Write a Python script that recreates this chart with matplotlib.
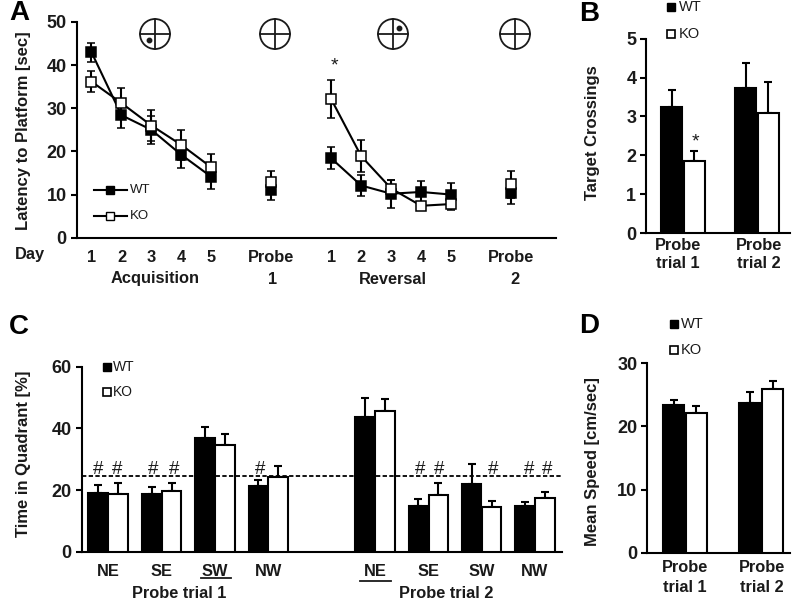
import matplotlib
matplotlib.use("Agg")
import matplotlib.pyplot as plt
import numpy as np
from matplotlib.patches import Circle

plt.rcParams['font.family'] = ['Liberation Sans', 'DejaVu Sans']

W, H = 800, 605

# panel A
acq_pos = [0, 1, 2, 3, 4]
rev_pos = [8, 9, 10, 11, 12]
probe_pos = [6, 14]
a_ticks = [0, 1, 2, 3, 4, 6, 8, 9, 10, 11, 12, 14]
a_labels = ['1', '2', '3', '4', '5', 'Probe', '1', '2', '3', '4', '5', 'Probe']

wt_acq = [43, 28.4, 25, 19.2, 14.1]
wt_acq_err = [2.2, 3, 3.3, 3, 2.7]
ko_acq = [36.2, 31.2, 26, 21.5, 16.3]
ko_acq_err = [2.4, 3.6, 3.6, 3.4, 3]
wt_rev = [18.4, 12.1, 10.2, 10.6, 10]
wt_rev_err = [2.55, 2.4, 3.2, 2.5, 2.6]
ko_rev = [32.1, 18.9, 11.4, 7.4, 7.8]
ko_rev_err = [4.4, 3.7, 2, 0.8, 1.3]
wt_probe = [11, 10.4]
wt_probe_err = [2.2, 2.7]
ko_probe = [13, 12.4]
ko_probe_err = [2.4, 3.1]

# panel B
b_wt = [3.24, 3.74]
b_wt_err = [0.45, 0.64]
b_ko = [1.85, 3.1]
b_ko_err = [0.27, 0.78]

# panel C
c_pos = [0, 1, 2, 3, 5, 6, 7, 8]
c_labels = ['NE', 'SE', 'SW', 'NW', 'NE', 'SE', 'SW', 'NW']
c_wt = [19.2, 18.6, 36.9, 21.4, 43.8, 14.9, 22.1, 14.8]
c_wt_err = [2.5, 2.4, 3.4, 1.7, 6.1, 2.1, 6.2, 1.3]
c_ko = [18.6, 19.7, 34.6, 24.1, 45.6, 18.5, 14.4, 17.5]
c_ko_err = [3.8, 2.5, 3.7, 3.6, 3.9, 3.7, 1.9, 2]
chance = 24.5

# panel D
d_wt = [23.4, 23.7]
d_wt_err = [0.8, 1.7]
d_ko = [22.1, 25.9]
d_ko_err = [1.2, 1.3]

DARK = '#1a1a1a'
LW = 1.5
LABEL = 11.8

fig = plt.figure(figsize=(W / 100, H / 100), dpi=100, facecolor='white')


def px_axes(left, top, right, bottom):
    ax = fig.add_axes([left / W, 1 - bottom / H, (right - left) / W, (bottom - top) / H])
    ax.patch.set_alpha(0)
    ax.spines['top'].set_visible(False)
    ax.spines['right'].set_visible(False)
    ax.spines['left'].set_linewidth(LW)
    ax.spines['bottom'].set_linewidth(LW)
    ax.tick_params(axis='y', length=4, width=LW, pad=3, labelsize=13, labelcolor=DARK)
    ax.tick_params(axis='x', length=0, labelsize=LABEL, labelcolor=DARK)
    return ax


def bars(ax, pos, wt, wt_err, ko, ko_err, width, off):
    pos = np.array(pos)
    for x, v, e, col in [(pos - off, wt, wt_err, 'black'), (pos + off, ko, ko_err, 'white')]:
        ax.errorbar(x, v, yerr=[np.zeros(len(v)), e], fmt='none', ecolor='black',
                    elinewidth=LW, capsize=2.8, capthick=LW, zorder=2)
        ax.bar(x, v, width, color=col, edgecolor='black', linewidth=LW, zorder=3)


def series(ax, x, y, err, face, line=True):
    ax.errorbar(x, y, yerr=err, fmt='s-' if line else 's', color='black', mfc=face, mec='black',
                ms=6.5, mew=1.1, lw=LW, elinewidth=LW, capsize=2.8, capthick=LW, zorder=3, clip_on=False)


# A
ax_a = px_axes(76.5, 22, 556, 237.7)
series(ax_a, acq_pos, wt_acq, wt_acq_err, 'black')
series(ax_a, acq_pos, ko_acq, ko_acq_err, 'white')
series(ax_a, rev_pos, wt_rev, wt_rev_err, 'black')
series(ax_a, rev_pos, ko_rev, ko_rev_err, 'white')
series(ax_a, probe_pos, wt_probe, wt_probe_err, 'black', line=False)
series(ax_a, probe_pos, ko_probe, ko_probe_err, 'white', line=False)
ax_a.set_xlim(-0.5, 15.5)
ax_a.set_ylim(0, 50)
ax_a.set_yticks([0, 10, 20, 30, 40, 50])
ax_a.set_xticks(a_ticks, a_labels)
ax_a.tick_params(axis='x', pad=9)

# B
ax_b = px_axes(646, 38.7, 790, 233)
bars(ax_b, [0, 1], b_wt, b_wt_err, b_ko, b_ko_err, 0.285, 0.155)
ax_b.set_xlim(-0.5, 1.446)
ax_b.set_ylim(0, 5)
ax_b.set_yticks([0, 1, 2, 3, 4, 5])
ax_b.set_xticks([])

# C
ax_c = px_axes(81.5, 366.7, 561.7, 551.7)
bars(ax_c, c_pos, c_wt, c_wt_err, c_ko, c_ko_err, 0.365, 0.187)
ax_c.axhline(chance, color='black', lw=1.3, ls=(0, (2.4, 1.3)), zorder=4)
ax_c.set_xlim(-0.5, 8.5)
ax_c.set_ylim(0, 60)
ax_c.set_yticks([0, 20, 40, 60])
ax_c.set_xticks(c_pos, c_labels)
ax_c.tick_params(axis='x', pad=9)

# D
ax_d = px_axes(647, 363.3, 790, 552.7)
bars(ax_d, [0, 1], d_wt, d_wt_err, d_ko, d_ko_err, 0.285, 0.15)
ax_d.set_xlim(-0.5, 1.38)
ax_d.set_ylim(0, 30)
ax_d.set_yticks([0, 10, 20, 30])
ax_d.set_xticks([])

for ax in [ax_a, ax_b, ax_c, ax_d]:
    for t in ax.get_yticklabels() + ax.get_xticklabels():
        t.set_fontweight('bold')

# overlay in pixel coordinates for the annotations
ov = fig.add_axes([0, 0, 1, 1])
ov.set_xlim(0, W)
ov.set_ylim(H, 0)
ov.axis('off')
ov.patch.set_alpha(0)


def txt(x, y, s, size=LABEL, weight='bold', color=DARK, ha='center', **kw):
    ov.text(x, y, s, fontsize=size, fontweight=weight, color=color, ha=ha, va='center', **kw)


for x, y, s in [(19, 13, 'A'), (589, 14, 'B'), (19, 327, 'C'), (589, 326, 'D')]:
    txt(x, y, s, size=20, color='black')

txt(24, 131, 'Latency to Platform [sec]', rotation=90, size=12)
txt(592, 133, 'Target Crossings', rotation=90, size=12)
txt(24, 454, 'Time in Quadrant [%]', rotation=90, size=12)
txt(592, 462, 'Mean Speed [cm/sec]', rotation=90, size=12)

txt(30, 255, 'Day')
txt(155, 279, 'Acquisition')
txt(273, 279, '1')
txt(393, 279, 'Reversal')
txt(515, 279, '2')

for x, y, s in [(678, 246, 'Probe'), (678, 264, 'trial 1'), (759, 246, 'Probe'), (759, 264, 'trial 2'),
                (685, 568, 'Probe'), (685, 587, 'trial 1'), (762, 568, 'Probe'), (762, 587, 'trial 2')]:
    txt(x, y, s)

txt(179, 593, 'Probe trial 1')
txt(446, 593, 'Probe trial 2')
ov.plot([201, 231], [578, 578], color=DARK, lw=1.3)
ov.plot([360, 391], [581, 581], color=DARK, lw=1.3)

# quadrant icons
for cx in [155, 275, 393, 515]:
    ov.add_patch(Circle((cx, 34), 15, fill=False, ec=DARK, lw=1.3))
    ov.plot([cx - 15, cx + 15], [34, 34], color=DARK, lw=1.3)
    ov.plot([cx, cx], [19, 49], color=DARK, lw=1.3)
ov.plot([149, 399], [40, 28], ls='none', marker='o', ms=3.2, color=DARK)

# stars and hashes
txt(334, 66, '*', size=14, weight='normal')
txt(695, 142, '*', size=14, weight='normal')
for x in [98, 117, 153, 174, 260, 420, 439, 493, 529, 547]:
    txt(x, 469, '#', size=13.5, weight='normal')

# legends
ov.plot([94, 127], [190, 190], color='black', lw=LW)
ov.plot([110], [190], 's', mfc='black', mec='black', ms=6, mew=1)
txt(130, 190, 'WT', size=9.5, weight='normal', ha='left')
ov.plot([94, 127], [216, 216], color='black', lw=LW)
ov.plot([110], [216], 's', mfc='white', mec='black', ms=6, mew=1)
txt(130, 216, 'KO', size=9.5, weight='normal', ha='left')

for sq, tx, y1, y2, fs in [(106.5, 113, 367, 392, 10), (671, 679, 7, 34, 10.5), (673.5, 681, 324, 350, 10.5)]:
    ov.plot([sq], [y1], 's', mfc='black', mec='black', ms=5.8, mew=1)
    ov.plot([sq], [y2], 's', mfc='white', mec='black', ms=5.8, mew=1.2)
    txt(tx, y1, 'WT', size=fs, weight='normal', ha='left')
    txt(tx, y2, 'KO', size=fs, weight='normal', ha='left')

fig.savefig('out.png', dpi=100)
